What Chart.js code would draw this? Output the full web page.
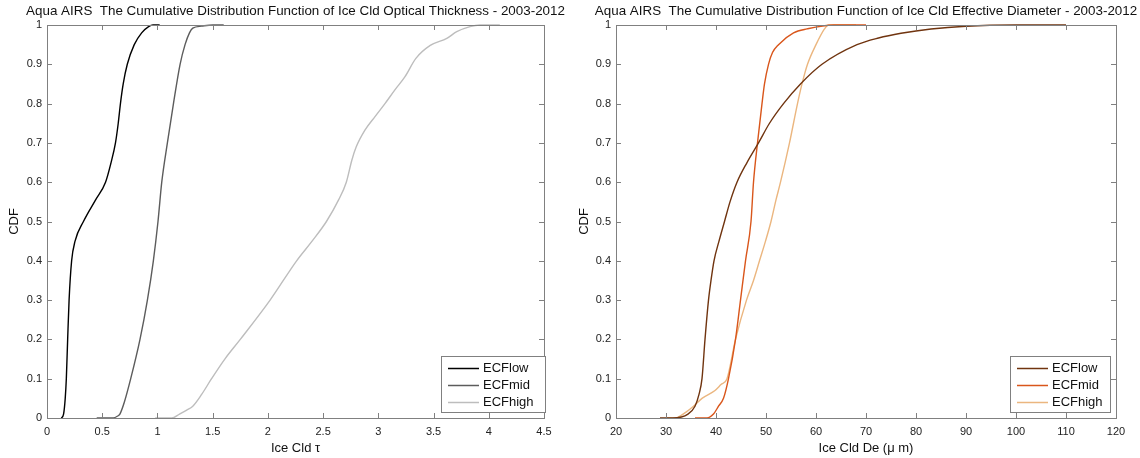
<!DOCTYPE html>
<html>
<head>
<meta charset="utf-8">
<script src="https://cdn.jsdelivr.net/npm/chart.js@4.4.1/dist/chart.umd.min.js"></script>
<style>
   body { margin: 0; background: #fff; }
   .wrapper { display: flex; width: 1140px; height: 458px; }
</style>
</head>
<body>
<div class="wrapper">
   <canvas id="chart-tau" width="570" height="458"></canvas>
   <canvas id="chart-de" width="570" height="458"></canvas>
</div>
<script>
const seriesNames = ['ECFlow', 'ECFmid', 'ECFhigh'];

const tauLow = [[0.13,0],[0.15,0.01],[0.165,0.05],[0.175,0.1],[0.187,0.2],[0.2,0.3],[0.223,0.4],[0.254,0.45],[0.33,0.5],[0.44,0.555],[0.53,0.6],[0.58,0.65],[0.62,0.7],[0.645,0.75],[0.665,0.8],[0.69,0.85],[0.727,0.9],[0.79,0.95],[0.857,0.98],[0.92,0.996],[0.96,1],[1.02,1]];
const tauMid = [[0.45,0],[0.6,0],[0.64,0.005],[0.66,0.01],[0.7,0.04],[0.758,0.1],[0.842,0.2],[0.909,0.3],[0.963,0.4],[1.005,0.5],[1.039,0.6],[1.09,0.7],[1.145,0.8],[1.205,0.9],[1.25,0.95],[1.29,0.98],[1.32,0.992],[1.4,0.997],[1.5,1],[1.6,1]];
const tauHigh = [[0.98,0],[1.13,0],[1.2,0.01],[1.265,0.02],[1.32,0.03],[1.4,0.06],[1.49,0.1],[1.61,0.15],[1.75,0.2],[2.02,0.3],[2.26,0.4],[2.4,0.45],[2.53,0.5],[2.64,0.555],[2.71,0.6],[2.76,0.656],[2.8,0.69],[2.88,0.733],[2.97,0.767],[3.06,0.8],[3.15,0.835],[3.24,0.868],[3.34,0.915],[3.47,0.948],[3.62,0.966],[3.71,0.983],[3.83,0.996],[3.92,1],[4.1,1]];

const deLow = [[28.8,0],[31.4,0],[34.4,0.01],[35.8,0.03],[36.6,0.06],[37.2,0.1],[37.8,0.2],[38.5,0.3],[39,0.35],[39.6,0.4],[40.6,0.45],[41.7,0.5],[42.8,0.55],[44.2,0.6],[46.2,0.65],[48.5,0.7],[50.7,0.75],[53.5,0.8],[56.9,0.85],[61.2,0.9],[68.2,0.95],[72.5,0.967],[77,0.979],[83,0.99],[90,0.997],[100,1],[110,1]];
const deMid = [[35.8,0],[38.2,0],[39.5,0.01],[40.5,0.03],[41.5,0.05],[42.5,0.1],[43.9,0.2],[44.9,0.3],[45.9,0.4],[47,0.5],[47.5,0.6],[48.3,0.7],[49.2,0.8],[49.7,0.85],[50.5,0.9],[51.3,0.93],[52.5,0.95],[55.5,0.98],[58.2,0.99],[63.5,1],[70,1]];
const deHigh = [[30,0],[32,0],[32.8,0.005],[34,0.015],[35.5,0.03],[37.2,0.05],[39.8,0.07],[41,0.085],[42.2,0.1],[43.9,0.2],[46.1,0.3],[47.5,0.35],[48.7,0.4],[49.9,0.45],[51,0.5],[52,0.555],[52.9,0.6],[54.7,0.7],[56.3,0.8],[57.2,0.85],[58.3,0.9],[60,0.95],[61.7,0.99],[62.5,1],[68,1]];

// tick values
const cdfTicks = [0, 0.1, 0.2, 0.3, 0.4, 0.5, 0.6, 0.7, 0.8, 0.9, 1];
const tauTicks = [0, 0.5, 1, 1.5, 2, 2.5, 3, 3.5, 4, 4.5];
const deTicks = [20, 30, 40, 50, 60, 70, 80, 90, 100, 110, 120];

const tauColors = ['#000000', '#5c5c5c', '#bdbdbd'];
const deColors = ['#70340f', '#d9561b', '#ebb67f'];

const FONT = "'Liberation Sans', Arial, Helvetica, sans-serif";
const AXIS_GREY = '#808080';

// box + inward tick marks on all four sides (matlab look)
const framePlugin = {
   id: 'frame',
   afterDatasetsDraw(chart) {
      const ctx = chart.ctx;
      const area = chart.chartArea;
      const xs = chart.scales.x;
      const ys = chart.scales.y;
      const len = 5;
      ctx.save();
      ctx.strokeStyle = AXIS_GREY;
      ctx.lineWidth = 1;
      ctx.beginPath();
      for (var t of xs.ticks) {
         let px = Math.round(xs.getPixelForValue(t.value)) + 0.5;
         ctx.moveTo(px, area.bottom); ctx.lineTo(px, area.bottom - len);
         ctx.moveTo(px, area.top); ctx.lineTo(px, area.top + len);
      }
      for (var t of ys.ticks) {
         let py = Math.round(ys.getPixelForValue(t.value)) + 0.5;
         ctx.moveTo(area.left, py); ctx.lineTo(area.left + len, py);
         ctx.moveTo(area.right, py); ctx.lineTo(area.right - len, py);
      }
      ctx.stroke();
      ctx.strokeRect(Math.round(area.left) + 0.5, Math.round(area.top) + 0.5,
         Math.round(area.right - area.left), Math.round(area.bottom - area.top));
      ctx.restore();
   }
};

// title over the plot area + legend box in the lower right corner
const decorPlugin = {
   id: 'decor',
   afterDraw(chart, args, opts) {
      const ctx = chart.ctx;
      const area = chart.chartArea;
      ctx.save();
      ctx.fillStyle = '#111';
      ctx.font = '13.4px ' + FONT;
      ctx.textAlign = 'center';
      ctx.textBaseline = 'middle';
      ctx.fillText(opts.title, (area.left + area.right) / 2, 11);

      const w = opts.legendWidth;
      const h = 56;
      const right = area.right - opts.legendInset;
      const left = right - w;
      const top = area.bottom - 6 - h;
      ctx.fillStyle = '#fff';
      ctx.fillRect(left, top, w, h);
      ctx.strokeStyle = AXIS_GREY;
      ctx.lineWidth = 1;
      ctx.strokeRect(Math.round(left) + 0.5, Math.round(top) + 0.5, w, h);
      ctx.font = '13px ' + FONT;
      ctx.textAlign = 'left';
      chart.data.datasets.forEach((ds, i) => {
         let y = Math.round(top + 12 + i * 17) + 0.5;
         ctx.strokeStyle = ds.borderColor;
         ctx.lineWidth = 1.5;
         ctx.beginPath();
         ctx.moveTo(left + 7, y);
         ctx.lineTo(left + 38, y);
         ctx.stroke();
         ctx.fillStyle = '#111';
         ctx.fillText(ds.label, left + 42, y);
      });
      ctx.restore();
   }
};

function toPoints(pairs) {
   return pairs.map(p => ({ x: p[0], y: p[1] }));
}

function createChart(element, series, colors, xTicks, xTitle, title, padRight, yWidth, legendWidth, legendInset) {
   return new Chart(element, {
      type: 'line',
      data: {
         datasets: series.map((s, i) => ({
            label: seriesNames[i],
            data: toPoints(s),
            borderColor: colors[i],
            borderWidth: 1.4,
            cubicInterpolationMode: 'monotone',
            clip: 3
         }))
      },
      options: {
         responsive: false,
         animation: false,
         layout: { padding: { top: 25, right: padRight, left: 0, bottom: 0 } },
         elements: { point: { radius: 0 } },
         scales: {
            x: {
               type: 'linear',
               min: xTicks[0],
               max: xTicks[xTicks.length - 1],
               afterBuildTicks: scale => { scale.ticks = xTicks.map(v => ({ value: v })); },
               afterFit: scale => { scale.height = 40; },
               ticks: { autoSkip: false, maxRotation: 0, padding: 7, color: '#222', font: { family: FONT, size: 11 }, callback: v => String(v) },
               grid: { display: false, drawTicks: false },
               border: { display: false },
               title: { display: true, text: xTitle, color: '#111', font: { family: FONT, size: 13 }, padding: { top: 0, bottom: 2 } }
            },
            y: {
               type: 'linear',
               min: 0,
               max: 1,
               afterBuildTicks: scale => { scale.ticks = cdfTicks.map(v => ({ value: v })); },
               afterFit: scale => { scale.width = yWidth; },
               ticks: { autoSkip: false, padding: 5, color: '#222', font: { family: FONT, size: 11 }, callback: v => String(v) },
               grid: { display: false, drawTicks: false },
               border: { display: false },
               title: { display: true, text: 'CDF', color: '#111', font: { family: FONT, size: 13 }, padding: { top: 7, bottom: 0 } }
            }
         },
         plugins: {
            legend: { display: false },
            tooltip: { enabled: false },
            decor: { title: title, legendWidth: legendWidth, legendInset: legendInset }
         }
      },
      plugins: [framePlugin, decorPlugin]
   });
}

createChart(document.getElementById('chart-tau'), [tauLow, tauMid, tauHigh], tauColors, tauTicks,
   'Ice Cld \u03c4', 'Aqua AIRS  The Cumulative Distribution Function of Ice Cld Optical Thickness - 2003-2012', 26, 47, 104, -1);
createChart(document.getElementById('chart-de'), [deLow, deMid, deHigh], deColors, deTicks,
   'Ice Cld De (\u03bc m)', 'Aqua AIRS  The Cumulative Distribution Function of Ice Cld Effective Diameter - 2003-2012', 24, 46, 100, 6);
</script>
</body>
</html>
